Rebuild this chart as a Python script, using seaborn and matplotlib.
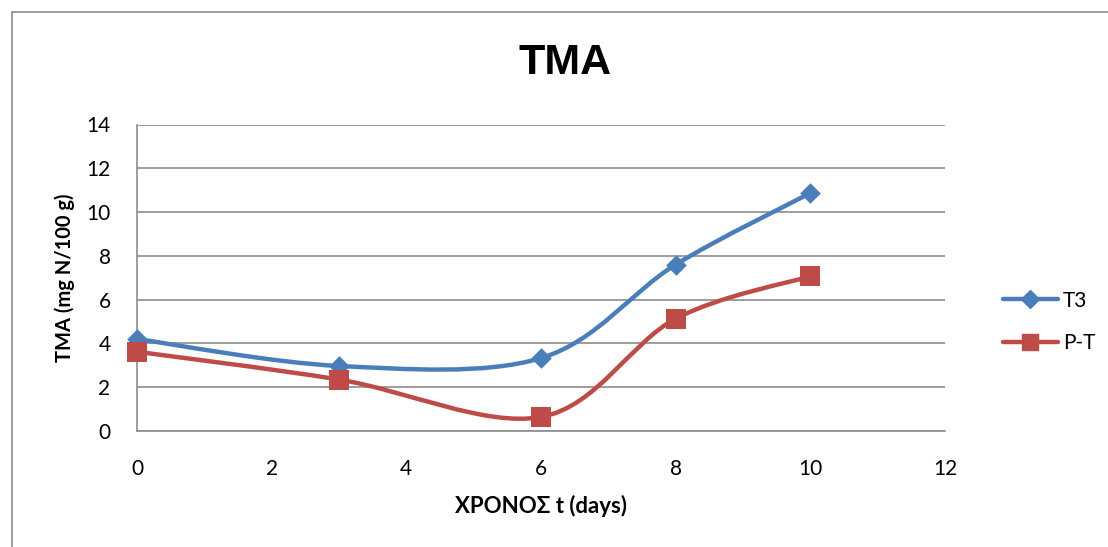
import numpy as np
import matplotlib
matplotlib.use("Agg")
import matplotlib.pyplot as plt
from matplotlib.path import Path
from matplotlib.patches import PathPatch
from matplotlib.lines import Line2D
import seaborn as sns

# Storage time (days) and TMA content (mg N/100 g)
days = [0, 3, 6, 8, 10]
t3 = [4.2, 2.97, 3.33, 7.6, 10.87]
pt = [3.62, 2.35, 0.64, 5.13, 7.07]
series_names = ["T3", "P-T"]
x_ticks = [0, 2, 4, 6, 8, 10, 12]
y_ticks = [0, 2, 4, 6, 8, 10, 12, 14]

BLUE = "#4A7EBB"
RED = "#BE4B48"
GRID = "#8C8C8C"

sns.set_theme(style="white")
plt.rcParams["font.family"] = ["Lato", "DejaVu Sans"]
plt.rcParams["text.color"] = "black"
plt.rcParams["axes.labelcolor"] = "black"

W, H = 1108, 547
fig = plt.figure(figsize=(W / 100, H / 100), dpi=100)
ax = fig.add_axes([137 / W, 1 - 431 / H, (945 - 137) / W, (431 - 124.5) / H])


def smooth_path(xs, ys):
    """Cubic Bezier path through the points (cardinal spline, tension 1/6)."""
    p = np.column_stack([xs, ys]).astype(float)
    ext = np.vstack([p[0], p, p[-1]])
    verts = [p[0]]
    codes = [Path.MOVETO]
    for i in range(len(p) - 1):
        a, b, c, d = ext[i], ext[i + 1], ext[i + 2], ext[i + 3]
        c1 = b + (c - a) / 6.0
        c2 = c - (d - b) / 6.0
        verts += [c1, c2, c]
        codes += [Path.CURVE4] * 3
    return Path(verts, codes)


for ys, color, marker, ms in [(t3, BLUE, "D", 10.5), (pt, RED, "s", 14)]:
    ax.add_patch(PathPatch(smooth_path(days, ys), facecolor="none", edgecolor=color,
                           lw=3.2, capstyle="round", joinstyle="round", zorder=3))
    sns.scatterplot(x=days, y=ys, ax=ax, marker=marker, s=ms ** 2, color=color,
                    edgecolor=color, linewidth=0, zorder=4, legend=False, clip_on=False)

ax.set_xlim(0, 12)
ax.set_ylim(0, 14)
ax.set_xticks(x_ticks)
ax.set_yticks(y_ticks)
ax.tick_params(axis="y", length=0, labelsize=15, colors="black", pad=19)
ax.tick_params(axis="x", length=0, labelsize=15, colors="black", pad=20)
ax.grid(axis="y", color=GRID, lw=1.2)
ax.grid(axis="x", visible=False)
for side in ["top", "right"]:
    ax.spines[side].set_visible(False)
for side in ["left", "bottom"]:
    ax.spines[side].set_color(GRID)
    ax.spines[side].set_linewidth(1.2)

fig.text(565 / W, 1 - 62.5 / H, "TMA", fontsize=31, fontweight="bold",
         family="Liberation Sans", ha="center", va="center", color="black")
ax.set_xlabel("ΧΡΟΝΟΣ t (days)", fontsize=16, fontweight="bold")
ax.set_ylabel("TMA (mg N/100 g)", fontsize=14.5, fontweight="bold")
ax.xaxis.set_label_coords(0.5, (431 - 495) / (431 - 124.5))
ax.yaxis.set_label_coords((75 - 137) / (945 - 137), 0.5)

handles = [
    Line2D([], [], color=BLUE, lw=3.2, marker="D", markersize=9.5, solid_capstyle="round"),
    Line2D([], [], color=RED, lw=3.2, marker="s", markersize=12, solid_capstyle="round"),
]
fig.legend(handles, series_names, loc="center left",
           bbox_to_anchor=(984 / W, 1 - 322 / H), frameon=False,
           fontsize=15, handlelength=2.65, labelspacing=1.1, handletextpad=0.25)

# Chart area frame
fig.add_artist(Line2D([12 / W, 12 / W], [0, 1 - 12 / H], color=GRID, lw=1.2))
fig.add_artist(Line2D([12 / W, 1], [1 - 12 / H, 1 - 12 / H], color=GRID, lw=1.2))

fig.savefig("out.png", dpi=100, facecolor="white")
